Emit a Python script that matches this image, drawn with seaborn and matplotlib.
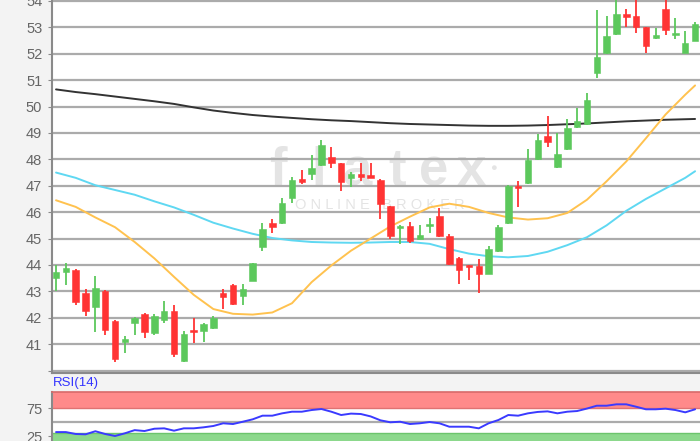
import numpy as np
import pandas as pd
import matplotlib.pyplot as plt
import seaborn as sns

# daily candles
opens = [43.5, 43.75, 43.8, 42.95, 42.4, 43.0, 41.88, 41.1, 41.8, 42.14,
         41.44, 41.9, 42.26, 40.36, 41.48, 41.51, 41.6, 42.95, 43.24, 42.83,
         43.4, 44.67, 45.58, 45.58, 46.52, 47.25, 47.45, 47.8, 48.08, 47.85,
         47.28, 47.45, 47.41, 47.22, 46.23, 45.41, 45.48, 45.0, 45.48, 45.86,
         45.1, 44.25, 43.97, 43.97, 43.66, 44.54, 45.6, 46.99, 47.1, 48.0,
         48.89, 47.7, 48.38, 49.22, 49.34, 51.28, 52.04, 52.75, 53.5, 53.43,
         53.0, 52.59, 53.7, 52.7, 52.04, 52.5]
highs = [44.0, 44.08, 43.83, 43.1, 43.6, 43.05, 41.93, 41.32, 42.02, 42.17,
         42.15, 42.65, 42.5, 41.5, 42.0, 41.8, 42.07, 43.08, 43.28, 43.28,
         44.08, 45.58, 45.73, 46.52, 47.35, 47.6, 48.17, 48.73, 48.48, 47.88,
         47.53, 47.85, 47.85, 47.25, 46.25, 45.5, 45.64, 45.52, 45.77, 46.15,
         45.17, 44.3, 43.99, 44.22, 44.72, 45.52, 47.02, 47.19, 48.38, 48.96,
         49.64, 48.99, 49.52, 49.93, 50.5, 53.66, 53.43, 54.1, 53.68, 54.1,
         53.02, 52.97, 54.1, 53.34, 52.86, 53.2]
lows = [43.0, 43.25, 42.5, 42.05, 41.47, 41.35, 40.33, 40.65, 41.35, 41.25,
        41.35, 41.8, 40.5, 40.33, 41.03, 41.1, 41.58, 42.32, 42.48, 42.48,
        43.38, 44.54, 45.22, 45.55, 46.36, 47.07, 47.22, 47.75, 47.66, 46.8,
        46.94, 47.19, 47.28, 45.73, 44.97, 44.8, 44.82, 44.97, 45.2, 45.05,
        44.0, 43.28, 43.43, 42.93, 43.64, 44.5, 45.55, 46.2, 47.08, 47.98,
        48.48, 47.68, 48.35, 49.2, 49.3, 51.1, 52.0, 52.72, 53.03, 52.78,
        52.04, 52.57, 52.71, 52.55, 52.02, 52.48]
closes = [43.75, 43.87, 42.6, 42.27, 43.12, 41.55, 40.43, 41.18, 42.0, 41.45,
          42.07, 42.26, 40.63, 41.38, 41.45, 41.77, 42.0, 42.78, 42.52, 43.08,
          44.06, 45.35, 45.43, 46.36, 47.22, 47.16, 47.66, 48.55, 47.87, 47.16,
          47.45, 47.35, 47.3, 46.31, 45.1, 45.48, 44.92, 45.14, 45.55, 45.1,
          44.04, 43.81, 43.92, 43.66, 44.6, 45.45, 46.99, 46.9, 47.98, 48.73,
          48.67, 48.19, 49.18, 49.47, 50.25, 51.87, 52.67, 53.5, 53.38, 53.03,
          52.3, 52.71, 52.9, 52.74, 52.4, 53.12]

# moving averages, read at every second candle
ma_idx = [0, 2, 4, 6, 8, 10, 12, 14, 16, 18, 20, 22, 24, 26, 28, 30, 32,
          34, 36, 38, 40, 42, 44, 46, 48, 50, 52, 54, 56, 58, 60, 62, 64, 65]
sma200 = [50.65, 50.55, 50.47, 50.38, 50.29, 50.2, 50.1, 49.97, 49.85, 49.76,
          49.68, 49.62, 49.57, 49.52, 49.48, 49.45, 49.41, 49.37, 49.34, 49.32,
          49.3, 49.28, 49.27, 49.27, 49.28, 49.3, 49.33, 49.36, 49.4, 49.44,
          49.47, 49.5, 49.52, 49.53]
sma50 = [47.5, 47.3, 47.02, 46.84, 46.66, 46.41, 46.18, 45.9, 45.6, 45.38,
         45.18, 45.02, 44.93, 44.87, 44.85, 44.84, 44.85, 44.87, 44.87, 44.8,
         44.6, 44.43, 44.33, 44.29, 44.34, 44.5, 44.75, 45.05, 45.5, 46.05,
         46.5, 46.9, 47.3, 47.55]
sma20 = [46.45, 46.2, 45.8, 45.43, 44.87, 44.25, 43.55, 42.87, 42.33, 42.15,
         42.12, 42.2, 42.55, 43.35, 43.98, 44.54, 45.0, 45.46, 45.83, 46.18,
         46.32, 46.2, 45.97, 45.8, 45.72, 45.77, 45.97, 46.47, 47.17, 47.92,
         48.8, 49.7, 50.45, 50.8]

rsi14 = [32, 32, 28.6, 28, 33.5, 28.6, 25, 29.8, 35.5, 33.9,
         38, 38.7, 34.5, 38.7, 38.7, 40.5, 42.9, 47.7, 46.4, 50.5,
         54.8, 61.3, 61.3, 65.5, 68.4, 68.4, 71.4, 73.2, 68.4, 62.5,
         65, 64.3, 60, 53, 49.5, 50.5, 46.4, 47.7, 50, 47.7,
         41.6, 41.6, 41.6, 38.7, 47.7, 53.6, 62.5, 61.3, 65.5, 68,
         69, 65.5, 68.4, 69.6, 74, 79.1, 79.1, 81.6, 81.6, 77.3,
         72.7, 72.7, 73.8, 71.4, 67.3, 72.7]

sns.set_style("white")
plt.rcParams['font.family'] = ['Liberation Sans', 'DejaVu Sans']

df = pd.DataFrame({'Open': opens, 'High': highs, 'Low': lows, 'Close': closes})
df['i'] = np.arange(len(df))
df['col'] = np.where(df['Close'] >= df['Open'], '#5cc85c', '#ff3434')
df['bottom'] = df[['Open', 'Close']].min(axis=1)
df['h'] = (df['Close'] - df['Open']).abs().clip(lower=0.07)

W, H = 700, 441
fig = plt.figure(figsize=(7, 4.41), dpi=100, facecolor='#f3f3f3')

# ---- price panel ----
ax = fig.add_axes([52 / W, 1 - 373.2 / H, 648 / W, 382.8 / H])
ax.set_facecolor('white')
for v in range(40, 55):
    ax.axhline(v, color='#ababab', lw=1.6, zorder=1)

# watermark, letter by letter (wide tracking)
for ch, px in zip('flatex', [278, 319, 357, 397, 434, 471]):
    ax.text(px / W, 1 - 185 / H, ch, transform=fig.transFigure, fontsize=38,
            fontweight='bold', color='#e4e4e4', ha='center', va='baseline',
            zorder=0.5)
ax.text(493 / W, 1 - 168 / H, '\u25cf', transform=fig.transFigure, fontsize=8,
        color='#e4e4e4', ha='center', va='center', zorder=0.5)
ax.text(380 / W, 1 - 205 / H, 'O N L I N E   B R O K E R',
        transform=fig.transFigure, fontsize=10.5, color='#e4e4e4',
        ha='center', va='center', zorder=0.5)

sns.lineplot(x=ma_idx, y=sma200, ax=ax, color='#333333', lw=1.4, zorder=2)
sns.lineplot(x=ma_idx, y=sma50, ax=ax, color='#5fd8f2', lw=1.4, zorder=2)
sns.lineplot(x=ma_idx, y=sma20, ax=ax, color='#ffc24f', lw=1.4, zorder=2)

ax.vlines(df['i'], df['Low'], df['High'], colors=df['col'], lw=1.3, zorder=3)
ax.bar(df['i'], df['h'], bottom=df['bottom'], width=0.66, color=df['col'],
       edgecolor=df['col'], lw=0.4, zorder=4)

ax.set_xlim(-0.41, 65.5)
ax.set_ylim(39.9, 54.4)
ax.set_yticks(range(40, 55))
ax.set_yticklabels([''] + [str(v) for v in range(41, 55)])
ax.set_xticks([])
ax.set_xlabel('')
ax.set_ylabel('')
for s in ['top', 'right']:
    ax.spines[s].set_visible(False)
for s in ['left', 'bottom']:
    ax.spines[s].set_color('#8a8a8a')
    ax.spines[s].set_linewidth(1.5)
ax.tick_params(axis='y', length=3, pad=4, labelsize=10.5, colors='#8a8a8a',
               labelcolor='#666666', left=True)

# ---- RSI panel ----
fig.text(53 / W, 1 - 383 / H, 'RSI(14)', color='#3333ff', fontsize=9.5,
         ha='left', va='center')
ax2 = fig.add_axes([52 / W, 1 - 450 / H, 648 / W, 58 / H])
ax2.set_facecolor('white')
ax2.axhspan(75, 104, color='#ff8a8a', lw=0, zorder=0.5)
ax2.axhline(75, color='#e07272', lw=1.0, zorder=1)
ax2.axhspan(0, 30, color='#8cd88c', lw=0, zorder=0.5)
ax2.axhline(30, color='#6cc46c', lw=1.0, zorder=1)
ax2.axhline(50, color='#ababab', lw=1.6, zorder=1)
sns.lineplot(x=df['i'], y=rsi14, ax=ax2, color='#3a3aff', lw=1.4, zorder=3)
ax2.set_xlim(-0.41, 65.5)
ax2.set_ylim(0, 103.6)
ax2.set_yticks([25, 75])
ax2.set_xticks([])
ax2.set_xlabel('')
ax2.set_ylabel('')
for s in ['right', 'bottom']:
    ax2.spines[s].set_visible(False)
ax2.spines['top'].set_color('#d86a6a')
ax2.spines['top'].set_linewidth(1.2)
ax2.spines['left'].set_color('#8a8a8a')
ax2.spines['left'].set_linewidth(1.5)
ax2.tick_params(axis='y', length=3, pad=4, labelsize=10.5, colors='#8a8a8a',
                labelcolor='#666666', left=True)

fig.savefig('out.png', dpi=100, facecolor=fig.get_facecolor())
